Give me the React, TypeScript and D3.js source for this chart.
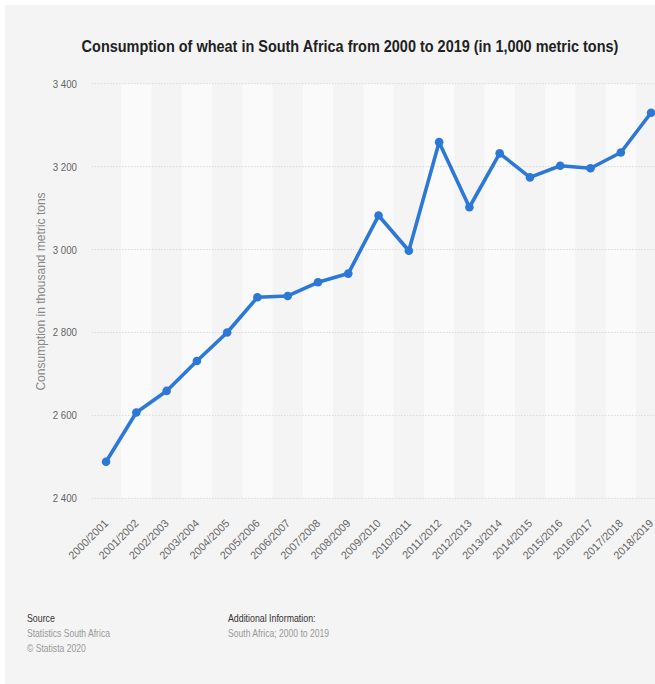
import React from "react";
import * as d3 from "d3";

const categories = [
  "2000/2001", "2001/2002", "2002/2003", "2003/2004", "2004/2005",
  "2005/2006", "2006/2007", "2007/2008", "2008/2009", "2009/2010",
  "2010/2011", "2011/2012", "2012/2013", "2013/2014", "2014/2015",
  "2015/2016", "2016/2017", "2017/2018", "2018/2019",
];
const consumption = [
  2488, 2607, 2659, 2731, 2800, 2885, 2888, 2921, 2942, 3082,
  2997, 3259, 3102, 3232, 3174, 3202, 3196, 3234, 3330,
];
const yTicks = [2400, 2600, 2800, 3000, 3200, 3400];

const title = "Consumption of wheat in South Africa from 2000 to 2019 (in 1,000 metric tons)";
const yAxisTitle = "Consumption in thousand metric tons";

const W = 655;
const H = 684;
const plotLeft = 90.9;
const plotTop = 83.7;
const plotBottom = 498.3;
const step = 30.28;
const FONT = "'Liberation Sans', Arial, sans-serif";

type NProps = {
  x: number;
  y: number;
  sx: number;
  rot?: number;
  anchor?: "start" | "middle" | "end";
  size: number;
  fill: string;
  weight?: string;
  children: React.ReactNode;
};

function NText({ x, y, sx, rot = 0, anchor = "start", size, fill, weight = "normal", children }: NProps) {
  return (
    <text
      transform={`translate(${x},${y}) rotate(${rot}) scale(${sx},1)`}
      textAnchor={anchor}
      fontFamily={FONT}
      fontSize={size}
      fontWeight={weight}
      fill={fill}
    >
      {children}
    </text>
  );
}

export default function App() {
  const x = d3
    .scaleBand<string>()
    .domain(categories)
    .range([plotLeft, plotLeft + step * categories.length])
    .padding(0);
  const y = d3.scaleLinear().domain([2400, 3400]).range([plotBottom, plotTop]);
  const cx = (c: string) => (x(c) as number) + x.bandwidth() / 2;

  const line = d3
    .line<number>()
    .x((_, i) => cx(categories[i]))
    .y((d) => y(d))
    .curve(d3.curveLinear);

  return (
    <svg
      width={W}
      height={H}
      style={{ position: "absolute", left: 0, top: 0, display: "block" }}
    >
      <rect x={0} y={0} width={W} height={H} fill="#ffffff" />
      <rect x={5} y={5} width={W - 5} height={H - 5} fill="#f4f4f4" />

      <NText x={350} y={52} sx={0.877} anchor="middle" size={16.5} weight="bold" fill="#222">
        {title}
      </NText>

      {/* alternating bands */}
      {categories.map((c, i) =>
        i % 2 === 1 ? (
          <rect
            key={c}
            x={x(c)}
            y={plotTop}
            width={x.bandwidth()}
            height={plotBottom - plotTop}
            fill="#fafafa"
          />
        ) : null
      )}

      {/* gridlines */}
      {yTicks.map((t) => (
        <line
          key={t}
          x1={92}
          x2={W}
          y1={y(t)}
          y2={y(t)}
          stroke="#d9d9d9"
          strokeWidth={1}
          strokeDasharray="1.5,1.5"
        />
      ))}

      {/* y tick labels */}
      {yTicks.map((t) => (
        <NText key={"l" + t} x={77} y={y(t) + 4} sx={0.88} anchor="end" size={11} fill="#666">
          {d3.format(",")(t).replace(",", " ")}
        </NText>
      ))}

      {/* y axis title */}
      <NText x={45} y={291.5} sx={1} rot={-90} anchor="middle" size={12} fill="#888">
        {yAxisTitle}
      </NText>

      {/* x labels */}
      {categories.map((c) => (
        <NText key={"x" + c} x={cx(c) + 3} y={524} sx={0.98} rot={-45} anchor="end" size={11} fill="#666">
          {c}
        </NText>
      ))}

      {/* line */}
      <path
        d={line(consumption) || ""}
        fill="none"
        stroke="#2b78d6"
        strokeWidth={3.6}
        strokeLinejoin="round"
        strokeLinecap="round"
      />
      {consumption.map((v, i) => (
        <circle key={"p" + i} cx={cx(categories[i])} cy={y(v)} r={4.3} fill="#2b78d6" />
      ))}

      {/* footer */}
      <NText x={27} y={622} sx={0.8} size={11} fill="#333">Source</NText>
      <NText x={27} y={637} sx={0.78} size={11} fill="#999">Statistics South Africa</NText>
      <NText x={27} y={652} sx={0.78} size={11} fill="#999">© Statista 2020</NText>
      <NText x={228} y={622} sx={0.8} size={11} fill="#333">Additional Information:</NText>
      <NText x={228} y={637} sx={0.78} size={11} fill="#999">South Africa; 2000 to 2019</NText>
    </svg>
  );
}
